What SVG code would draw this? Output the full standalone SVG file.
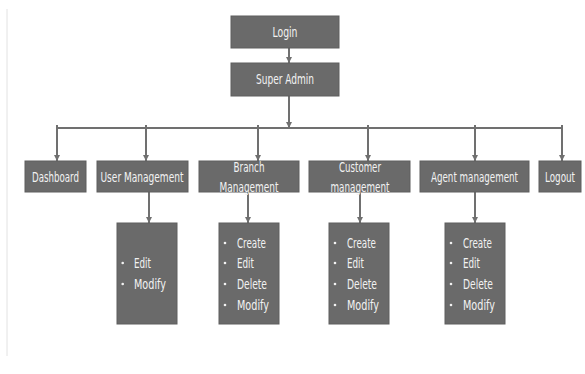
<svg xmlns="http://www.w3.org/2000/svg" width="585" height="374" viewBox="0 0 585 374">
<style>
.box{fill:#6a6a6a;stroke:#5e5e5e;stroke-width:1}
.t{font-family:"DejaVu Sans Condensed","DejaVu Sans",sans-serif;font-size:14px;fill:#f2f2f2;text-anchor:middle}
.l{font-family:"DejaVu Sans Condensed","DejaVu Sans",sans-serif;font-size:14px;fill:#f2f2f2}
.b{fill:#f2f2f2}
.c{stroke:#707070;stroke-width:2;fill:none}
</style>
<defs>
<marker id="ah" viewBox="0 0 6 6" refX="6" refY="3" markerWidth="3" markerHeight="3" orient="auto" markerUnits="strokeWidth">
<path d="M0,0 L6,3 L0,6 z" fill="#707070"/>
</marker>
</defs>
<rect width="585" height="374" fill="#ffffff"/>
<line x1="7" y1="9" x2="7" y2="356" stroke="#e2e2e2" stroke-width="1"/>
<g id="connectors">
<line class="c" x1="289" y1="48" x2="289" y2="63" marker-end="url(#ah)"/>
<line class="c" x1="289" y1="96" x2="289" y2="128" marker-end="url(#ah)"/>
<line class="c" x1="56" y1="128" x2="563" y2="128" stroke-width="2.5"/>
<line class="c" x1="57" y1="125" x2="57" y2="161" marker-end="url(#ah)"/>
<line class="c" x1="146" y1="125" x2="146" y2="161" marker-end="url(#ah)"/>
<line class="c" x1="258" y1="125" x2="258" y2="161" marker-end="url(#ah)"/>
<line class="c" x1="368" y1="125" x2="368" y2="161" marker-end="url(#ah)"/>
<line class="c" x1="475" y1="125" x2="475" y2="161" marker-end="url(#ah)"/>
<line class="c" x1="562" y1="125" x2="562" y2="161" marker-end="url(#ah)"/>
<line class="c" x1="149" y1="192" x2="149" y2="223" marker-end="url(#ah)"/>
<line class="c" x1="248" y1="192" x2="248" y2="223" marker-end="url(#ah)"/>
<line class="c" x1="360" y1="192" x2="360" y2="223" marker-end="url(#ah)"/>
<line class="c" x1="475" y1="192" x2="475" y2="223" marker-end="url(#ah)"/>
</g>
<g id="login"><rect class="box" x="231" y="16" width="108" height="32"/><text class="t" x="285" y="37" textLength="25" lengthAdjust="spacingAndGlyphs">Login</text></g>
<g id="superadmin"><rect class="box" x="231" y="63" width="108" height="33"/><text class="t" x="285" y="84" textLength="58" lengthAdjust="spacingAndGlyphs">Super Admin</text></g>
<g id="dashboard"><rect class="box" x="25" y="161" width="61" height="31"/><text class="t" x="55.5" y="181.5" textLength="47" lengthAdjust="spacingAndGlyphs">Dashboard</text></g>
<g id="usermgmt"><rect class="box" x="97" y="161" width="91" height="31"/><text class="t" x="142" y="181.5" textLength="83" lengthAdjust="spacingAndGlyphs">User Management</text></g>
<g id="branchmgmt"><rect class="box" x="199" y="161" width="100" height="31"/><text class="t" x="249" y="172" textLength="31" lengthAdjust="spacingAndGlyphs">Branch</text><text class="t" x="249" y="192" textLength="59" lengthAdjust="spacingAndGlyphs">Management</text></g>
<g id="custmgmt"><rect class="box" x="309" y="161" width="101" height="31"/><text class="t" x="360" y="172" textLength="42" lengthAdjust="spacingAndGlyphs">Customer</text><text class="t" x="360" y="192" textLength="59" lengthAdjust="spacingAndGlyphs">management</text></g>
<g id="agentmgmt"><rect class="box" x="420" y="161" width="109" height="31"/><text class="t" x="474.5" y="181.5" textLength="87" lengthAdjust="spacingAndGlyphs">Agent management</text></g>
<g id="logout"><rect class="box" x="539" y="161" width="42" height="31"/><text class="t" x="560" y="181.5" textLength="30" lengthAdjust="spacingAndGlyphs">Logout</text></g>
<g id="userlist"><rect class="box" x="117" y="223" width="60" height="101"/>
<circle class="b" cx="122.7" cy="263" r="1.3"/><circle class="b" cx="122.7" cy="284" r="1.3"/>
<text class="l" x="134" y="268" textLength="17" lengthAdjust="spacingAndGlyphs">Edit</text>
<text class="l" x="134" y="289" textLength="32" lengthAdjust="spacingAndGlyphs">Modify</text></g>
<g id="branchlist"><rect class="box" x="219" y="223" width="60" height="101"/>
<circle class="b" cx="225" cy="243" r="1.3"/><circle class="b" cx="225" cy="263" r="1.3"/><circle class="b" cx="225" cy="284" r="1.3"/><circle class="b" cx="225" cy="305" r="1.3"/>
<text class="l" x="237" y="248" textLength="29" lengthAdjust="spacingAndGlyphs">Create</text>
<text class="l" x="237" y="268" textLength="17" lengthAdjust="spacingAndGlyphs">Edit</text>
<text class="l" x="237" y="289" textLength="30" lengthAdjust="spacingAndGlyphs">Delete</text>
<text class="l" x="237" y="310" textLength="32" lengthAdjust="spacingAndGlyphs">Modify</text></g>
<g id="custlist"><rect class="box" x="329" y="223" width="60" height="101"/>
<circle class="b" cx="335" cy="243" r="1.3"/><circle class="b" cx="335" cy="263" r="1.3"/><circle class="b" cx="335" cy="284" r="1.3"/><circle class="b" cx="335" cy="305" r="1.3"/>
<text class="l" x="347" y="248" textLength="29" lengthAdjust="spacingAndGlyphs">Create</text>
<text class="l" x="347" y="268" textLength="17" lengthAdjust="spacingAndGlyphs">Edit</text>
<text class="l" x="347" y="289" textLength="30" lengthAdjust="spacingAndGlyphs">Delete</text>
<text class="l" x="347" y="310" textLength="32" lengthAdjust="spacingAndGlyphs">Modify</text></g>
<g id="agentlist"><rect class="box" x="445" y="223" width="60" height="101"/>
<circle class="b" cx="451" cy="243" r="1.3"/><circle class="b" cx="451" cy="263" r="1.3"/><circle class="b" cx="451" cy="284" r="1.3"/><circle class="b" cx="451" cy="305" r="1.3"/>
<text class="l" x="463" y="248" textLength="29" lengthAdjust="spacingAndGlyphs">Create</text>
<text class="l" x="463" y="268" textLength="17" lengthAdjust="spacingAndGlyphs">Edit</text>
<text class="l" x="463" y="289" textLength="30" lengthAdjust="spacingAndGlyphs">Delete</text>
<text class="l" x="463" y="310" textLength="32" lengthAdjust="spacingAndGlyphs">Modify</text></g>
</svg>
